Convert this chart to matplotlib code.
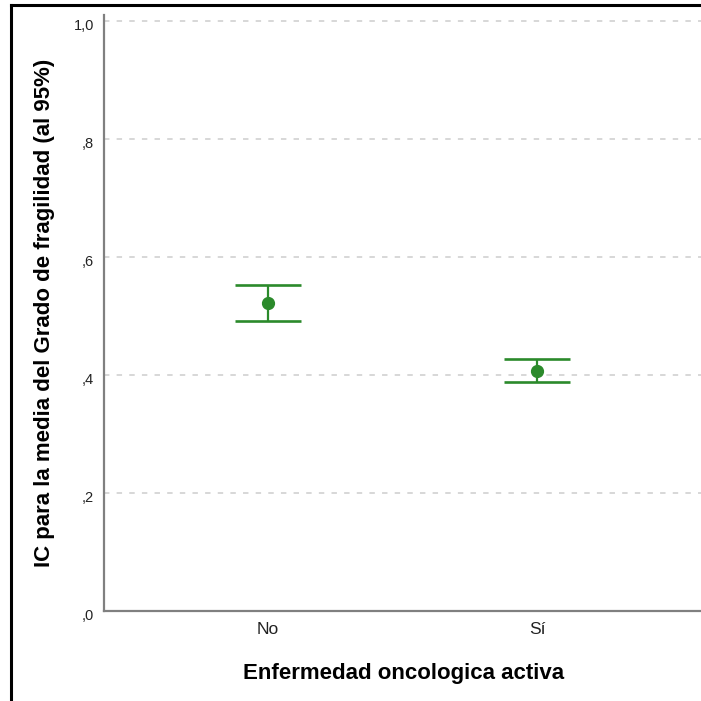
import matplotlib
matplotlib.use("Agg")
import matplotlib.pyplot as plt
import matplotlib.transforms as mtransforms
from matplotlib.lines import Line2D

categories = ["No", "Sí"]
means = [0.522, 0.406]
lower = [0.491, 0.388]
upper = [0.553, 0.427]
yticks = [0.0, 0.2, 0.4, 0.6, 0.8, 1.0]
ytick_labels = [",0", ",2", ",4", ",6", ",8", "1,0"]

plt.rcParams['font.family'] = ['Liberation Sans', 'DejaVu Sans']

W = H = 701
fig = plt.figure(figsize=(W / 100, H / 100), dpi=100)
ax = fig.add_axes([104 / W, 1 - 611 / H, (W - 104) / W, (611 - 15) / H])

green = '#2b8a2b'
x = list(range(len(categories)))
yerr = [[m - l for m, l in zip(means, lower)], [u - m for m, u in zip(means, upper)]]
for y in yticks[1:]:
    ax.axhline(y, color='#d4d4d4', lw=1.3, ls=(0, (3, 4)), zorder=0)
ax.errorbar(x, means, yerr=yerr, fmt='o', color=green, ecolor=green,
            markersize=8.5, elinewidth=1.6, capsize=24, capthick=1.9, zorder=3)

ax.set_xlim(-0.61, 1.61)
ax.set_ylim(0, 1.01)
ax.set_xticks(x)
ax.set_xticklabels(categories, fontsize=12.5, color='#222222')
ax.set_yticks(yticks)
ax.set_yticklabels(ytick_labels, fontsize=10.5, color='#222222')
ax.tick_params(axis='both', length=0)
ax.tick_params(axis='y', pad=7)
ax.tick_params(axis='x', pad=8)
offset = mtransforms.ScaledTranslation(0, -4 / 100, fig.dpi_scale_trans)
for lbl in ax.get_yticklabels():
    lbl.set_transform(lbl.get_transform() + offset)
for s in ['top', 'right']:
    ax.spines[s].set_visible(False)
for s in ['left', 'bottom']:
    ax.spines[s].set_color('#808080')
    ax.spines[s].set_linewidth(1.6)

fig.text(404 / W, 1 - 673 / H, "Enfermedad oncologica activa", fontsize=16,
         fontweight='bold', ha='center', va='center')
fig.text(45 / W, 1 - 313 / H, "IC para la media del Grado de fragilidad (al 95%)",
         fontsize=16, fontweight='bold', ha='center', va='center', rotation=90)

# outer frame (top and left)
fig.add_artist(Line2D([11 / W, 11 / W], [0, 1 - 5 / H], transform=fig.transFigure, color='black', lw=2.2))
fig.add_artist(Line2D([11 / W, 1], [1 - 5 / H, 1 - 5 / H], transform=fig.transFigure, color='black', lw=2.2))

fig.savefig("out.png", dpi=100)
